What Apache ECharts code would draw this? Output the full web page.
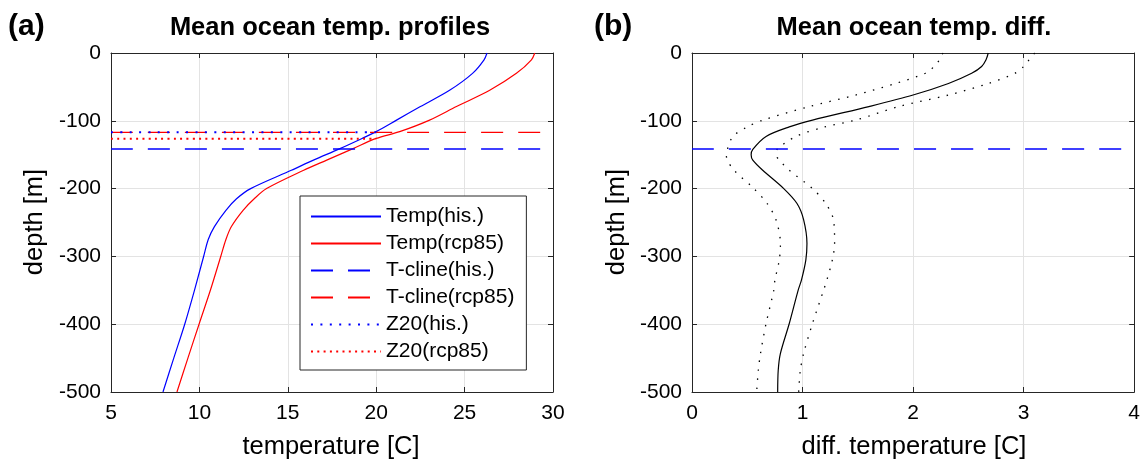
<!DOCTYPE html>
<html><head><meta charset="utf-8">
<script src="https://cdn.jsdelivr.net/npm/echarts@6.0.0/dist/echarts.min.js"></script>
<style>html,body{margin:0;padding:0;background:#fff}#c{width:1143px;height:465px}</style>
</head><body><div id="c"></div>
<script>
// ---- data (panel a: temperature profiles) ----
const depthProfile = [0,-10,-30,-55,-79,-99,-116,-126,-141,-158,-173,-200,-215,-232,-256,-275,-299,-350,-400,-450,-500];
const tempHis = [26.27,26.1,25.45,24.15,22.5,21.15,20.0,19.2,17.95,16.45,15.2,12.9,12.1,11.5,10.85,10.5,10.25,9.72,9.17,8.55,7.94];
const tempRcp = [28.97,28.78,27.93,26.42,24.54,23.02,21.33,20.0,18.69,17.2,15.9,13.8,13.1,12.47,11.81,11.5,11.22,10.62,9.98,9.35,8.73];
const tclineHis = -141.6;
const tclineRcp = -117;
const z20His = -117;
const z20Rcp = -126.4;
const z20Temp = 20;
// ---- data (panel b: temperature difference) ----
const depthDiff = [0,-10,-20,-30,-45,-62,-79,-99,-109,-123,-142,-150,-158,-173,-200,-222,-246,-281,-305,-335,-350,-399,-443,-468,-500];
const diffMean = [2.68,2.66,2.62,2.53,2.32,2.00,1.60,1.09,0.88,0.67,0.55,0.535,0.55,0.64,0.83,0.95,1.01,1.04,1.03,0.99,0.96,0.88,0.80,0.78,0.775];
const diffLow  = [2.27,2.24,2.19,2.11,1.84,1.48,1.06,0.64,0.50,0.37,0.32,0.31,0.32,0.38,0.56,0.68,0.76,0.80,0.79,0.75,0.74,0.67,0.62,0.60,0.585];
const diffHigh = [3.10,3.05,3.00,2.92,2.68,2.32,1.87,1.48,1.20,0.94,0.77,0.76,0.79,0.88,1.09,1.21,1.28,1.29,1.27,1.22,1.19,1.09,1.01,0.98,0.965];
// ---- axes ----
const tempRange = [5, 30, 5];
const diffRange = [0, 4, 1];
const depthRange = [-500, 0, 100];
const titles = ['Mean ocean temp. profiles', 'Mean ocean temp. diff.'];
const panelTags = ['(a)', '(b)'];
const xNames = ['temperature [C]', 'diff. temperature [C]'];
const yName = 'depth [m]';
const legendNames = ['Temp(his.)','Temp(rcp85)','T-cline(his.)','T-cline(rcp85)','Z20(his.)','Z20(rcp85)'];

const FONT = '"Liberation Sans", Arial, Helvetica, sans-serif';
const AX = '#262626';
const pair = (xs, ys) => xs.map((x, i) => [x, ys[i]]);
const hline = (x0, x1, d) => [[x0, d], [x1, d]];

function xAx(grid, r, pos) {
  const main = pos === 'bottom';
  return {
    type: 'value', gridIndex: grid, position: pos, min: r[0], max: r[1], interval: r[2],
    axisLine: { show: true, onZero: false, lineStyle: { color: AX, width: 1 } },
    axisTick: { show: true, inside: true, length: 5, lineStyle: { color: AX } },
    axisLabel: { show: main, fontSize: 21, color: '#000', fontFamily: FONT, margin: 11 },
    splitLine: { show: main, lineStyle: { color: '#e3e3e3', width: 1 } }
  };
}
function yAx(grid, r, pos) {
  const main = pos === 'left';
  return {
    type: 'value', gridIndex: grid, position: pos, min: r[0], max: r[1], interval: r[2],
    axisLine: { show: true, onZero: false, lineStyle: { color: AX, width: 1 } },
    axisTick: { show: true, inside: true, length: 5, lineStyle: { color: AX } },
    axisLabel: { show: main, fontSize: 21, color: '#000', fontFamily: FONT, margin: 10 },
    splitLine: { show: main, lineStyle: { color: '#e3e3e3', width: 1 } }
  };
}
function ln(name, data, color, width, type, xi, yi, z) {
  return {
    type: 'line', name: name, data: data, xAxisIndex: xi, yAxisIndex: yi,
    symbol: 'none', showSymbol: false, smooth: 0.3,
    animation: false, silent: true, z: z || 2,
    lineStyle: { color: color, width: width, type: type, cap: 'butt' },
    itemStyle: { color: color }
  };
}

const option = {
  animation: false,
  backgroundColor: '#fff',
  grid: [
    { left: 111, top: 53, width: 442, height: 339, containLabel: false },
    { left: 692, top: 53, width: 445, height: 339, containLabel: false }
  ],
  xAxis: [xAx(0, tempRange, 'bottom'), xAx(0, tempRange, 'top'), xAx(1, diffRange, 'bottom'), xAx(1, diffRange, 'top')],
  yAxis: [yAx(0, depthRange, 'left'), yAx(0, depthRange, 'right'), yAx(1, depthRange, 'left'), yAx(1, depthRange, 'right')],
  legend: {
    data: legendNames, orient: 'vertical', left: 300, top: 196,
    itemWidth: 70, itemHeight: 20, itemGap: 6, padding: [10, 12, 8, 10],
    borderColor: AX, borderWidth: 1, borderRadius: 0, backgroundColor: '#fff',
    selectedMode: false,
    itemStyle: { opacity: 0, borderWidth: 0 },
    textStyle: { fontSize: 21, color: '#000', fontFamily: FONT, lineHeight: 20 }
  },
  series: [
    ln(legendNames[0], pair(tempHis, depthProfile), '#0000ff', 1.2, 'solid', 0, 0),
    ln(legendNames[1], pair(tempRcp, depthProfile), '#ff0000', 1.2, 'solid', 0, 0),
    ln(legendNames[2], hline(tempRange[0], tempRange[1], tclineHis), '#0000ff', 1.3, [22, 15], 0, 0),
    ln(legendNames[3], hline(tempRange[0], tempRange[1], tclineRcp), '#ff0000', 1.3, [22, 15], 0, 0),
    ln(legendNames[4], hline(tempRange[0], z20Temp, z20His), '#0000ff', 2, [2, 7.4], 0, 0, 3),
    ln(legendNames[5], hline(tempRange[0], z20Temp, z20Rcp), '#ff0000', 2, [2, 4.3], 0, 0, 3),
    ln('diffMean', pair(diffMean, depthDiff), '#000', 1.2, 'solid', 2, 2),
    ln('diffLow', pair(diffLow, depthDiff), '#000', 1.3, [1.5, 7.5], 2, 2),
    ln('diffHigh', pair(diffHigh, depthDiff), '#000', 1.3, [1.5, 7.5], 2, 2),
    ln('tclineHisB', hline(diffRange[0], diffRange[1], tclineHis), '#0000ff', 1.3, [22, 15], 2, 2)
  ],
  graphic: [
    { type: 'text', x: 8, y: 27, style: { text: panelTags[0], font: 'bold 30px ' + FONT, fill: '#000', align: 'left', verticalAlign: 'middle' } },
    { type: 'text', x: 594, y: 27, style: { text: panelTags[1], font: 'bold 30px ' + FONT, fill: '#000', align: 'left', verticalAlign: 'middle' } },
    { type: 'text', x: 330, y: 28, style: { text: titles[0], font: 'bold 25.5px ' + FONT, fill: '#000', align: 'center', verticalAlign: 'middle' } },
    { type: 'text', x: 914, y: 28, style: { text: titles[1], font: 'bold 25.5px ' + FONT, fill: '#000', align: 'center', verticalAlign: 'middle' } },
    { type: 'text', x: 331, y: 447, style: { text: xNames[0], font: '25.5px ' + FONT, fill: '#000', align: 'center', verticalAlign: 'middle' } },
    { type: 'text', x: 914, y: 447, style: { text: xNames[1], font: '25.5px ' + FONT, fill: '#000', align: 'center', verticalAlign: 'middle' } },
    { type: 'text', x: 35, y: 222, rotation: Math.PI / 2, style: { text: yName, font: '25.5px ' + FONT, fill: '#000', align: 'center', verticalAlign: 'middle' } },
    { type: 'text', x: 617, y: 222, rotation: Math.PI / 2, style: { text: yName, font: '25.5px ' + FONT, fill: '#000', align: 'center', verticalAlign: 'middle' } }
  ]
};
const chart = echarts.init(document.getElementById('c'), null, { renderer: 'canvas' });
chart.setOption(option);
</script></body></html>
